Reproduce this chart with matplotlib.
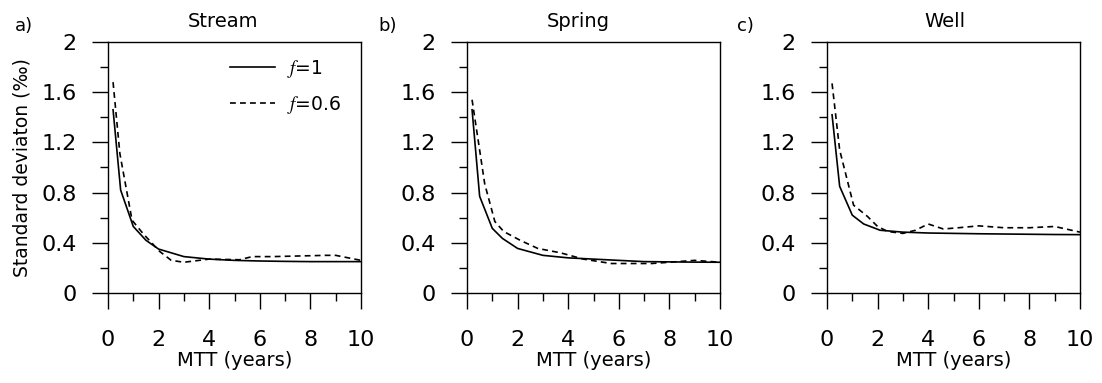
import numpy as np
import matplotlib
matplotlib.use('Agg')
import matplotlib.pyplot as plt
from matplotlib.ticker import MultipleLocator

plt.rcParams['font.family'] = ['DejaVu Sans']
plt.rcParams['mathtext.fontset'] = 'stix'

# Stream
stream_x1 = [0.2, 0.5, 1.0, 1.5, 2.0, 3.0, 4.0, 5.0, 6.0, 7.0, 8.0, 9.0, 10.0]
stream_y1 = [1.46, 0.82, 0.53, 0.42, 0.35, 0.29, 0.27, 0.26, 0.255, 0.252, 0.25, 0.25, 0.25]
stream_x2 = [0.2, 0.47, 0.95, 1.4, 2.05, 2.5, 3.0, 4.0, 5.2, 5.7, 6.5, 8.6, 9.0, 9.75, 10.0]
stream_y2 = [1.68, 1.11, 0.58, 0.47, 0.33, 0.26, 0.245, 0.27, 0.265, 0.29, 0.29, 0.30, 0.30, 0.27, 0.26]

# Spring
spring_x1 = [0.2, 0.5, 1.0, 1.4, 2.0, 3.0, 4.0, 5.0, 6.0, 7.0, 8.0, 9.0, 10.0]
spring_y1 = [1.46, 0.77, 0.515, 0.435, 0.355, 0.30, 0.28, 0.27, 0.26, 0.25, 0.248, 0.246, 0.245]
spring_x2 = [0.2, 0.7, 1.1, 1.45, 2.1, 2.8, 3.7, 4.6, 5.7, 7.3, 8.0, 9.0, 10.0]
spring_y2 = [1.54, 0.87, 0.57, 0.49, 0.42, 0.355, 0.32, 0.27, 0.235, 0.235, 0.245, 0.26, 0.245]

# Well
well_x1 = [0.2, 0.5, 1.0, 1.45, 2.1, 3.0, 4.0, 5.0, 6.0, 7.0, 8.0, 9.0, 10.0]
well_y1 = [1.42, 0.85, 0.62, 0.55, 0.50, 0.485, 0.478, 0.475, 0.472, 0.47, 0.468, 0.466, 0.465]
well_x2 = [0.2, 0.5, 1.05, 1.6, 2.0, 2.4, 3.0, 3.5, 4.0, 4.6, 5.2, 6.0, 7.0, 8.0, 9.0, 10.0]
well_y2 = [1.67, 1.14, 0.70, 0.61, 0.53, 0.49, 0.475, 0.50, 0.55, 0.51, 0.52, 0.535, 0.52, 0.52, 0.53, 0.485]

titles = ['Stream', 'Spring', 'Well']
letters = ['a)', 'b)', 'c)']
series = [(stream_x1, stream_y1, stream_x2, stream_y2),
          (spring_x1, spring_y1, spring_x2, spring_y2),
          (well_x1, well_y1, well_x2, well_y2)]

W, H = 1102, 383
fig = plt.figure(figsize=(W / 100, H / 100), dpi=100)

lefts = [108, 467, 827]
title_pos = [0.455, 0.44, 0.468]
letter_x = [15, 378, 737]
top, bottom = 42, 293

for i in range(3):
    l = lefts[i]
    ax = fig.add_axes([l / W, 1 - bottom / H, 253 / W, (bottom - top) / H])
    x1, y1, x2, y2 = series[i]
    ax.plot(x1, y1, color='black', lw=1.2, label='$f$=1')
    ax.plot(x2, y2, color='black', lw=1.2, linestyle=(0, (3.5, 2.5)), label='$f$=0.6')
    ax.set_xlim(0, 10)
    ax.set_ylim(0, 2)
    ax.xaxis.set_major_locator(MultipleLocator(2))
    ax.xaxis.set_minor_locator(MultipleLocator(1))
    ax.yaxis.set_minor_locator(MultipleLocator(0.2))
    ax.set_yticks([0, 0.4, 0.8, 1.2, 1.6, 2.0])
    ax.set_yticklabels(['0', '0.4', '0.8', '1.2', '1.6', '2'])
    ax.tick_params(axis='both', which='major', direction='out', length=11.5, width=1.0,
                   labelsize=16, color='black')
    ax.tick_params(axis='both', which='minor', direction='out', length=6, width=1.0)
    ax.tick_params(axis='x', which='major', pad=15)
    ax.tick_params(axis='y', which='major', pad=11)
    for s in ax.spines.values():
        s.set_linewidth(1.0)
    ax.text(title_pos[i], (bottom - 27) / (bottom - top), titles[i], transform=ax.transAxes,
            ha='center', va='baseline', fontsize=14)
    ax.set_xlabel('MTT (years)', fontsize=14, va='center')
    ax.xaxis.set_label_coords(0.5, -(360 - bottom) / (bottom - top))
    fig.text(letter_x[i] / W, 1 - 31 / H, letters[i], fontsize=13, ha='left', va='baseline')
    if i == 0:
        ax.set_ylabel('Standard deviaton (‰)', fontsize=13.5)
        ax.yaxis.set_label_coords(-0.304, 0.5)
        ax.legend(loc='upper left', bbox_to_anchor=(0.452, 0.966), frameon=False,
                  fontsize=13.5, handlelength=2.4, handletextpad=0.64,
                  labelspacing=0.72, borderaxespad=0, borderpad=0.4)

fig.savefig('out.png', dpi=100)
